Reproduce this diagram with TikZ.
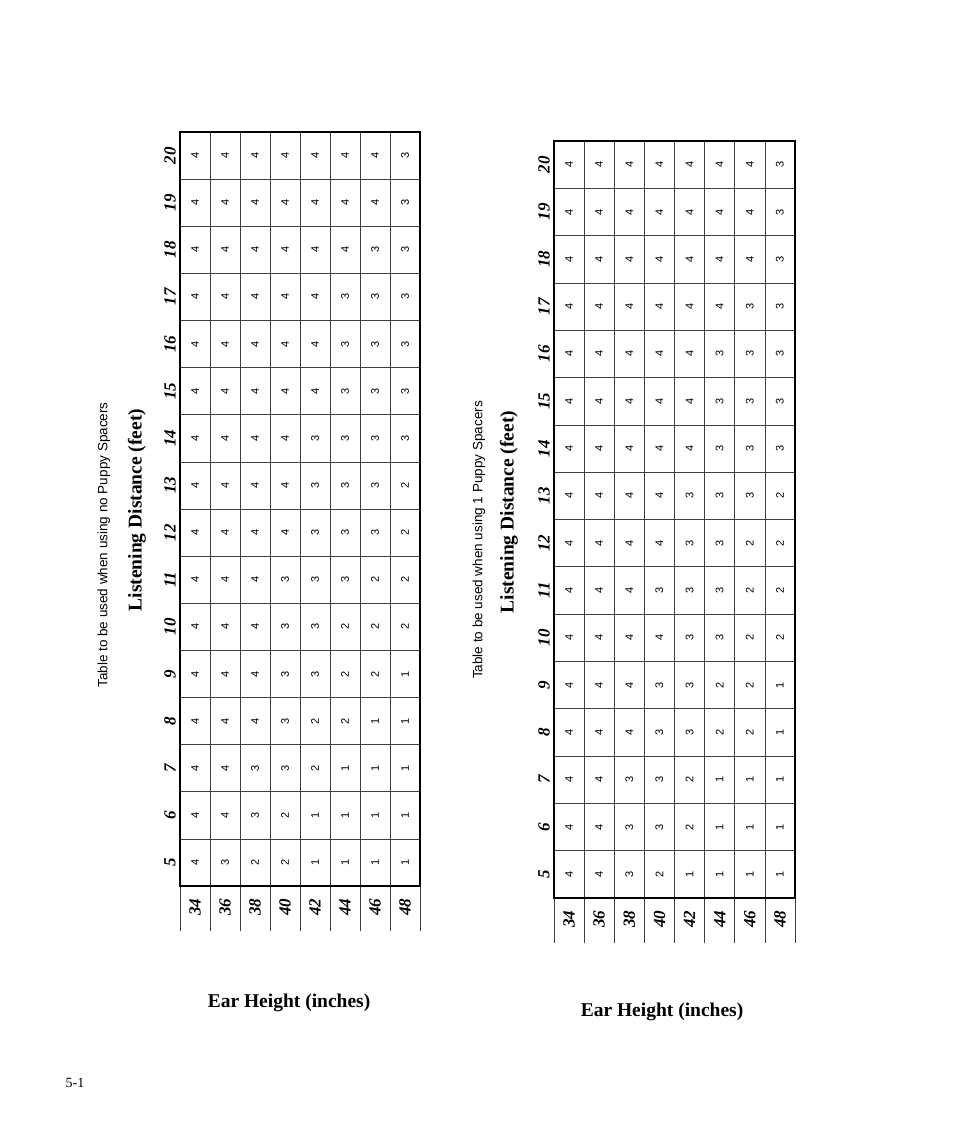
\documentclass[tikz,border=0pt]{standalone}
\usepackage{fontspec}
\setmainfont{Liberation Serif}
\newfontfamily\titlesans{Liberation Sans}
\newcommand\mytable[5]{% x0,y0,x1,y1,data
  \pgfmathsetmacro\tw{(#3-#1)/8}
  \pgfmathsetmacro\th{(#4-#2)/16}
  \foreach \k in {1,...,15}{\draw[gridline] (#1,#2+\k*\th) -- (#3,#2+\k*\th);}
  \foreach \k in {0,...,8}{\draw[gridline] (#1+\k*\tw,#2) -- (#1+\k*\tw,#4+45);}
  \draw[border] (#1,#2) rectangle (#3,#4);
  \foreach \r [count=\i] in {#5}{
    \pgfmathtruncatemacro\dist{21-\i}
    \node[hdr] at (#1-10,#2+\i*\th-0.5*\th) {\dist};
    \foreach \v [count=\j] in \r {
      \node[cellnum] at (#1+\j*\tw-0.5*\tw,#2+\i*\th-0.5*\th) {\v};
    }
  }
  \foreach \e [count=\j] in {34,36,38,40,42,44,46,48}{
    \node[hdr] at (#1+\j*\tw-0.5*\tw,#4+21) {\e};
  }
}
\begin{document}
\begin{tikzpicture}[x=1pt,y=-1pt,
  gridline/.style={black!75,line width=0.7pt},
  border/.style={black,line width=1.8pt},
  hdr/.style={rotate=90,font=\fontsize{17}{17}\selectfont\bfseries\itshape},
  cellnum/.style={rotate=90,font=\titlesans\fontsize{11}{11}\selectfont},
  ttl/.style={rotate=90,font=\titlesans\fontsize{13.5}{13.5}\selectfont},
  ldist/.style={rotate=90,font=\fontsize{19.5}{19.5}\selectfont\bfseries},
  ear/.style={font=\fontsize{19.5}{19.5}\selectfont\bfseries}]
\useasboundingbox (0,0) rectangle (954,1145);
\mytable{180}{132}{420}{886}{%
{4,4,4,4,4,4,4,3},{4,4,4,4,4,4,4,3},{4,4,4,4,4,4,3,3},{4,4,4,4,4,3,3,3},
{4,4,4,4,4,3,3,3},{4,4,4,4,4,3,3,3},{4,4,4,4,3,3,3,3},{4,4,4,4,3,3,3,2},
{4,4,4,4,3,3,3,2},{4,4,4,3,3,3,2,2},{4,4,4,3,3,2,2,2},{4,4,4,3,3,2,2,1},
{4,4,4,3,2,2,1,1},{4,4,3,3,2,1,1,1},{4,4,3,2,1,1,1,1},{4,3,2,2,1,1,1,1}}
\mytable{554}{141}{795}{898}{%
{4,4,4,4,4,4,4,3},{4,4,4,4,4,4,4,3},{4,4,4,4,4,4,4,3},{4,4,4,4,4,4,3,3},
{4,4,4,4,4,3,3,3},{4,4,4,4,4,3,3,3},{4,4,4,4,4,3,3,3},{4,4,4,4,3,3,3,2},
{4,4,4,4,3,3,2,2},{4,4,4,3,3,3,2,2},{4,4,4,4,3,3,2,2},{4,4,4,3,3,2,2,1},
{4,4,4,3,3,2,2,1},{4,4,3,3,2,1,1,1},{4,4,3,3,2,1,1,1},{4,4,3,2,1,1,1,1}}
\node[ttl] (t1) at (104,545) {Table to be used when using no Puppy Spacers};
\node[ldist] (l1) at (137,510) {Listening Distance (feet)};
\node[ear] (e1) at (289,1003) {Ear Height (inches)};
\node[ttl] (t2) at (479,540) {Table to be used when using 1 Puppy Spacers};
\node[ldist] (l2) at (509,512) {Listening Distance (feet)};
\node[ear] (e2) at (662,1012) {Ear Height (inches)};
\node[font=\fontsize{14}{14}\selectfont] (pg) at (75,1083) {5-1};
\end{tikzpicture}
\end{document}
